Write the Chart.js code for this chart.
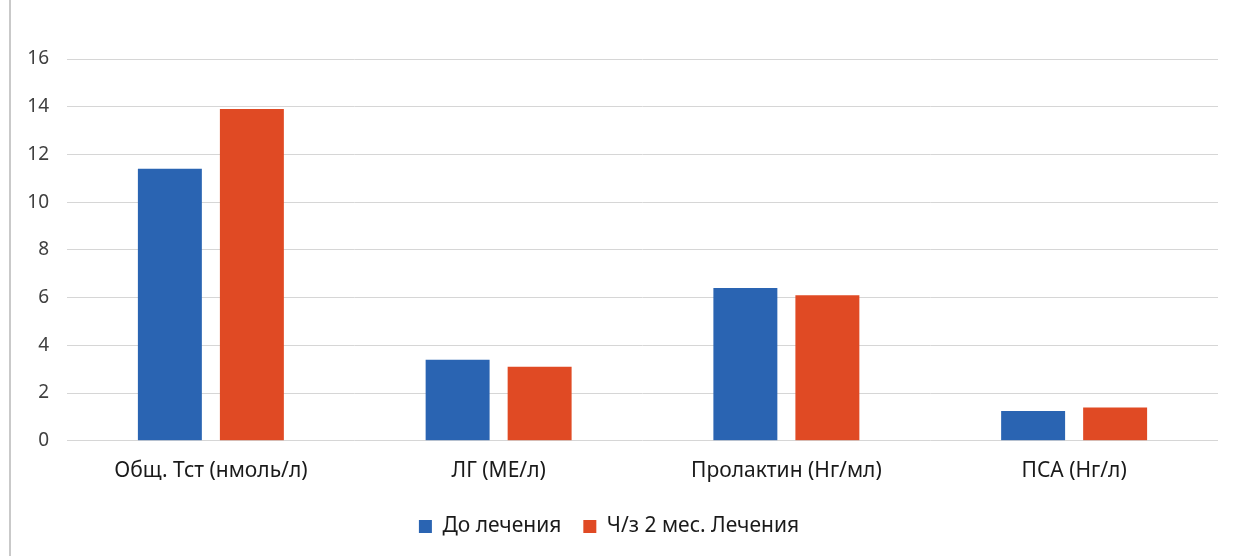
<!DOCTYPE html>
<html>
<head>
<meta charset="utf-8">
<script src="https://cdn.jsdelivr.net/npm/chart.js@4/dist/chart.umd.min.js"></script>
<style>
  html, body { margin: 0; padding: 0; background: #ffffff; }
  #wrap { position: relative; width: 1234px; height: 558px; }
  #edge { position: absolute; left: 9px; top: 0; width: 2px; height: 556px; background: #c9c9c9; }
  canvas { position: absolute; left: 0; top: 0; }
</style>
</head>
<body>
<div id="wrap">
  <div id="edge"></div>
  <canvas id="chart" width="1234" height="558"></canvas>
</div>
<script>
const categories = ['Общ. Тст (нмоль/л)', 'ЛГ (МЕ/л)', 'Пролактин (Нг/мл)', 'ПСА (Нг/л)'];
const seriesNames = ['До лечения', 'Ч/з 2 мес. Лечения'];
const beforeValues = [11.4, 3.4, 6.4, 1.25];
const afterValues = [13.9, 3.1, 6.1, 1.4];
const yTicks = [0, 2, 4, 6, 8, 10, 12, 14, 16];

const FONT = "'Noto Sans', 'Open Sans', sans-serif";

new Chart(document.getElementById('chart'), {
  type: 'bar',
  data: {
    labels: categories,
    datasets: [
      { label: seriesNames[0], data: beforeValues, backgroundColor: '#2a64b2' },
      { label: seriesNames[1], data: afterValues, backgroundColor: '#e04a24' }
    ]
  },
  options: {
    responsive: false,
    animation: false,
    layout: { padding: { top: 59, right: 16, left: 0, bottom: 11 } },
    datasets: { bar: { categoryPercentage: 0.57, barPercentage: 0.78 } },
    plugins: {
      tooltip: { enabled: false },
      legend: {
        position: 'bottom',
        labels: {
          boxWidth: 13, boxHeight: 13, padding: 22,
          color: '#1a1a1a', font: { family: FONT, size: 21 }
        }
      }
    },
    scales: {
      x: {
        grid: { display: false },
        border: { display: false },
        ticks: { color: '#1a1a1a', font: { family: FONT, size: 21 }, padding: 10 }
      },
      y: {
        min: 0, max: 16,
        afterBuildTicks: s => { s.ticks = yTicks.map(v => ({ value: v })); },
        afterFit: s => { s.width = 67; },
        grid: { color: '#d6d6d6', lineWidth: 1, drawTicks: false },
        border: { display: false },
        ticks: { color: '#404040', font: { family: FONT, size: 19 }, padding: 18 }
      }
    }
  }
});
</script>
</body>
</html>
